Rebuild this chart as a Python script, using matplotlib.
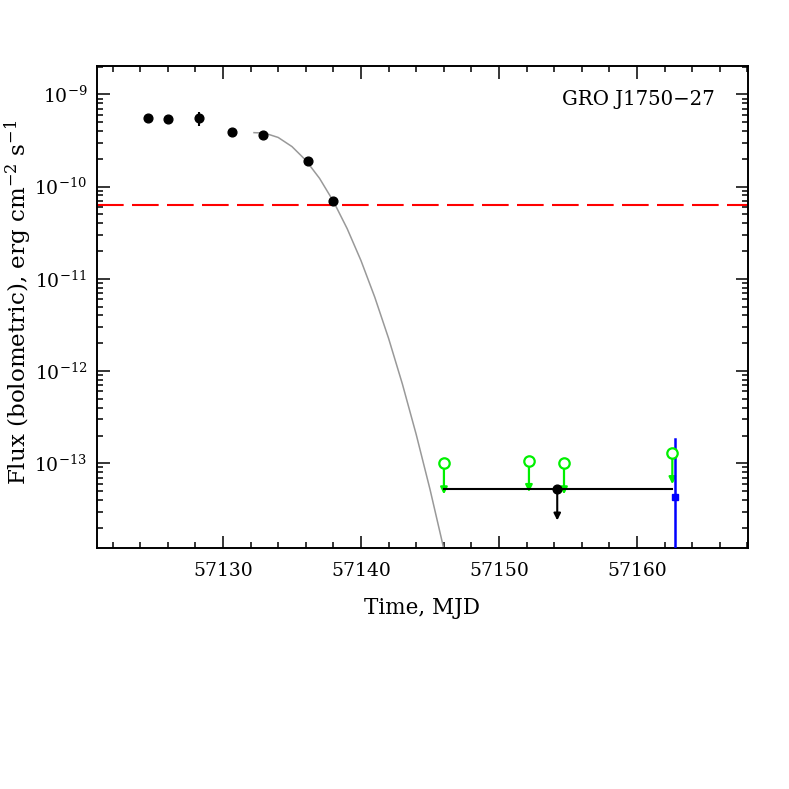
import matplotlib
matplotlib.use("Agg")
import matplotlib.pyplot as plt
import numpy as np
from matplotlib.ticker import LogLocator, MultipleLocator, NullFormatter

plt.rcParams["font.family"] = "DejaVu Serif"
plt.rcParams["mathtext.fontset"] = "dejavuserif"

# detections (black filled circles)
det_mjd = [57124.59, 57126.00, 57128.28, 57130.65, 57132.90, 57136.16, 57137.95]
det_flux = [5.5e-10, 5.4e-10, 5.5e-10, 3.9e-10, 3.65e-10, 1.91e-10, 6.98e-11]
det_err = [0.1e-10, 0.1e-10, 0.95e-10, 0.1e-10, 0.15e-10, 0.1e-10, 0.6e-11]

# model decay curve (grey), log10 flux
fit_mjd = [57132.25, 57133, 57134, 57135, 57136, 57137, 57138, 57139,
           57140, 57141, 57142, 57143, 57144, 57145, 57146, 57146.5]
fit_logf = [-9.416, -9.420, -9.468, -9.567, -9.715, -9.912, -10.160, -10.457,
            -10.803, -11.200, -11.646, -12.141, -12.687, -13.282, -13.927, -14.27]

# upper limits (green open circles)
ul_mjd = [57146.01, 57152.17, 57154.71, 57162.56]
ul_flux = [1.0e-13, 1.06e-13, 1.0e-13, 1.29e-13]

# stacked upper limit (black)
stack_mjd = 57154.22
stack_flux = 5.22e-14
stack_lo, stack_hi = 57146.01, 57162.56

# blue point
blue_mjd = 57162.75
blue_flux = 4.34e-14
blue_top = 1.82e-13

threshold = 6.33e-11
arrow_fac = 0.46

fig = plt.figure(figsize=(7.89, 7.89), dpi=100)
ax = fig.add_axes([0.1229, 0.3055, 0.8251, 0.6109])
ax.set_yscale("log")

ax.axhline(threshold, color="#ff0000", lw=1.5, dashes=[12.8, 4], zorder=1)

ax.plot(fit_mjd, 10 ** np.array(fit_logf), color="#999999", lw=1.1, zorder=2)

ax.errorbar(det_mjd, det_flux, yerr=det_err, fmt="o", color="black",
            ms=6.3, elinewidth=1.5, capsize=0, zorder=4)

# green upper limits
for x, f in zip(ul_mjd, ul_flux):
    ax.annotate("", xy=(x, f * arrow_fac), xytext=(x, f),
                arrowprops=dict(arrowstyle="-|>", color="#00f000", lw=1.6,
                                mutation_scale=10, shrinkA=0, shrinkB=0),
                zorder=3)
ax.plot(ul_mjd, ul_flux, "o", ms=7.5, mfc="white", mec="#00f000", mew=1.6, zorder=5)

# black stacked limit
ax.plot([stack_lo, stack_hi], [stack_flux, stack_flux], color="black", lw=1.5, zorder=3)
ax.annotate("", xy=(stack_mjd, stack_flux * arrow_fac), xytext=(stack_mjd, stack_flux),
            arrowprops=dict(arrowstyle="-|>", color="black", lw=1.5,
                            mutation_scale=10, shrinkA=0, shrinkB=0), zorder=3)
ax.plot([stack_mjd], [stack_flux], "o", color="black", ms=6.3, zorder=5)

# blue point
ax.plot([blue_mjd, blue_mjd], [1e-15, blue_top], color="#0000ff", lw=1.8, zorder=3)
ax.plot([blue_mjd], [blue_flux], "s", color="#0000ff", ms=4.5, zorder=5)

ax.set_xlim(57120.87, 57168.04)
ax.set_ylim(10 ** -13.918, 10 ** -8.693)

ax.xaxis.set_major_locator(MultipleLocator(10))
ax.xaxis.set_minor_locator(MultipleLocator(2))
ax.yaxis.set_major_locator(LogLocator(base=10, numticks=20))
ax.yaxis.set_minor_locator(LogLocator(base=10, subs=np.arange(2, 10), numticks=20))
ax.yaxis.set_minor_formatter(NullFormatter())
ax.xaxis.get_major_formatter().set_useOffset(False)

ax.tick_params(which="both", direction="in", top=True, right=True, width=1.1,
               labelsize=13.5)
ax.tick_params(which="major", length=9)
ax.tick_params(which="minor", length=4.5)
ax.tick_params(axis="x", pad=10)
ax.tick_params(axis="y", pad=7)
for s in ax.spines.values():
    s.set_linewidth(1.4)

ax.set_xlabel("Time, MJD", fontsize=15.5, labelpad=12)
fig.text(18 / 789, 1 - 302 / 789, r"Flux (bolometric), erg cm$^{-2}$ s$^{-1}$",
         rotation=90, ha="center", va="center", fontsize=16.6)

ax.text(0.949, 0.9295, "GRO J1750\u221227", transform=ax.transAxes,
        ha="right", va="center", fontsize=14.2)

fig.savefig("out.png", dpi=100)
